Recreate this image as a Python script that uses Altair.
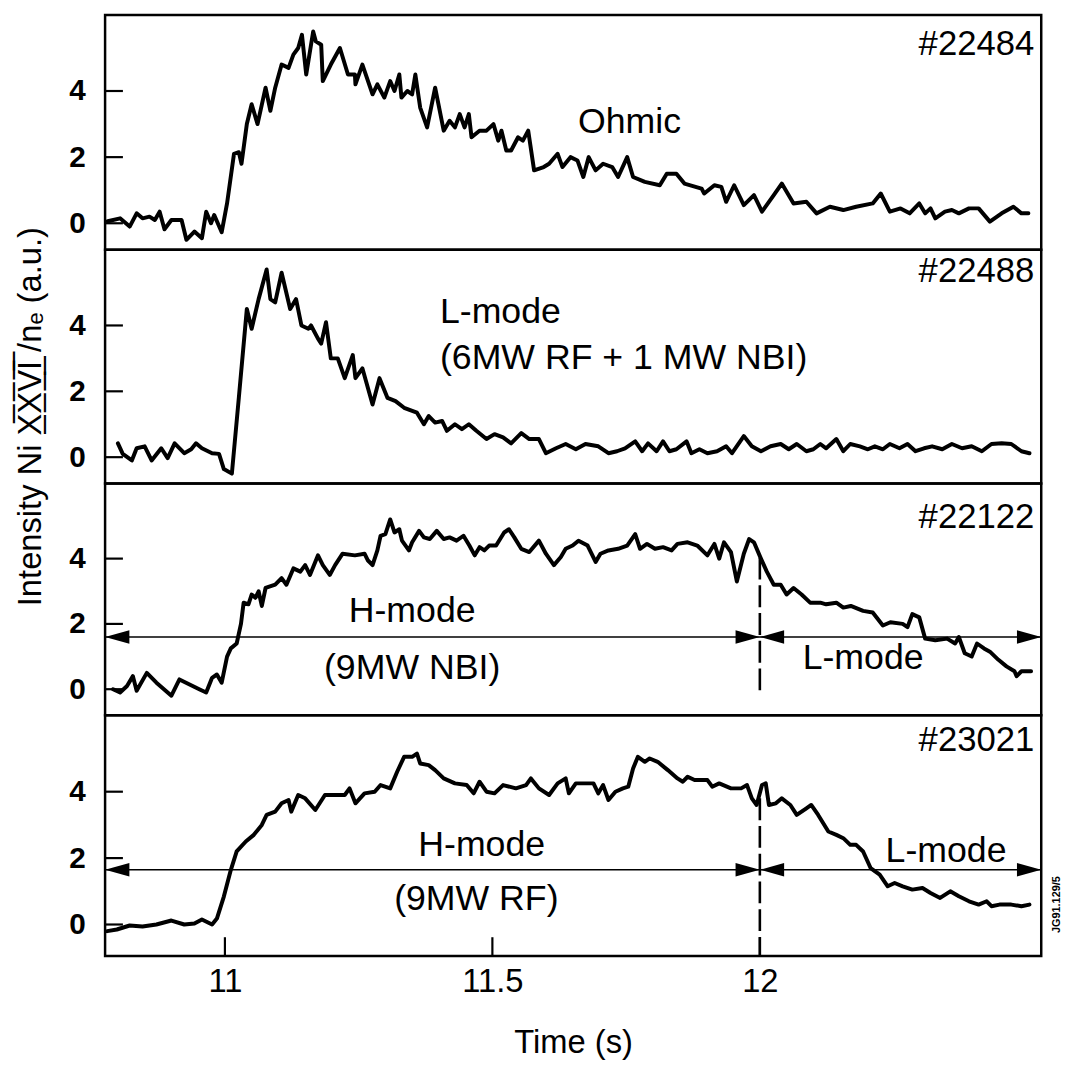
import altair as alt
import pandas as pd

FONT = "Liberation Sans"
X_MIN, X_MAX = 10.776, 12.526
X_TICKS = [11, 11.5, 12]
Y_TICKS = [0, 2, 4]

# ---------------- shot #22484 (Ohmic) ----------------
t_22484 = [10.781, 10.804, 10.822, 10.835, 10.846, 10.859, 10.869, 10.878, 10.887, 10.900,
           10.919, 10.928, 10.943, 10.957, 10.965, 10.974, 10.980, 10.994, 11.004, 11.017,
           11.026, 11.031, 11.041, 11.050, 11.061, 11.076, 11.085, 11.094, 11.106, 11.119,
           11.128, 11.137, 11.144, 11.152, 11.165, 11.170, 11.180, 11.183, 11.198, 11.215,
           11.230, 11.243, 11.244, 11.257, 11.276, 11.285, 11.298, 11.309, 11.317, 11.326,
           11.330, 11.341, 11.350, 11.356, 11.365, 11.378, 11.393, 11.409, 11.420, 11.430,
           11.439, 11.448, 11.456, 11.461, 11.476, 11.489, 11.502, 11.511, 11.517, 11.526,
           11.535, 11.548, 11.557, 11.567, 11.578, 11.596, 11.606, 11.622, 11.631, 11.646,
           11.659, 11.670, 11.680, 11.693, 11.707, 11.724, 11.735, 11.752, 11.763, 11.785,
           11.813, 11.826, 11.844, 11.859, 11.891, 11.896, 11.915, 11.928, 11.937, 11.952,
           11.970, 11.989, 12.004, 12.026, 12.041, 12.063, 12.087, 12.106, 12.131, 12.156,
           12.180, 12.211, 12.226, 12.243, 12.263, 12.280, 12.298, 12.309, 12.319, 12.328,
           12.346, 12.359, 12.372, 12.391, 12.409, 12.430, 12.452, 12.474, 12.489, 12.502]
v_22484 = [0.06, 0.15, -0.1, 0.3, 0.15, 0.2, 0.1, 0.35, -0.18, 0.1,
           0.1, -0.5, -0.25, -0.45, 0.35, 0.0, 0.25, -0.27, 0.6, 2.1,
           2.15, 1.8, 3.0, 3.6, 3.0, 4.1, 3.4, 4.1, 4.8, 4.7,
           5.1, 5.3, 5.7, 4.5, 5.8, 5.5, 5.4, 4.3, 4.8, 5.3,
           4.5, 4.5, 4.2, 4.8, 3.9, 4.2, 3.8, 4.3, 4.0, 4.5,
           3.8, 4.0, 3.9, 4.5, 3.5, 2.9, 4.1, 2.8, 3.1, 2.9,
           3.3, 2.9, 3.3, 2.6, 2.8, 2.8, 3.0, 2.5, 2.8, 2.2,
           2.2, 2.6, 2.5, 2.8, 1.6, 1.7, 1.8, 2.1, 1.7, 2.0,
           1.9, 1.4, 2.0, 1.6, 1.8, 1.7, 1.4, 2.0, 1.4, 1.25,
           1.15, 1.5, 1.5, 1.2, 1.05, 0.9, 1.15, 1.1, 0.65, 1.15,
           0.55, 0.85, 0.35, 0.85, 1.2, 0.6, 0.65, 0.3, 0.5, 0.4,
           0.5, 0.6, 0.9, 0.35, 0.45, 0.3, 0.6, 0.3, 0.45, 0.15,
           0.35, 0.4, 0.3, 0.45, 0.45, 0.05, 0.3, 0.5, 0.3, 0.3]

# ---------------- shot #22488 (L-mode) ----------------
t_22488 = [10.800, 10.809, 10.826, 10.835, 10.850, 10.863, 10.881, 10.893, 10.906, 10.924,
           10.937, 10.946, 10.957, 10.976, 10.989, 10.998, 11.013, 11.026, 11.041, 11.050,
           11.063, 11.078, 11.085, 11.094, 11.106, 11.122, 11.133, 11.143, 11.156, 11.161,
           11.174, 11.180, 11.189, 11.198, 11.211, 11.224, 11.239, 11.244, 11.257, 11.276,
           11.289, 11.304, 11.319, 11.335, 11.359, 11.372, 11.381, 11.393, 11.406, 11.415,
           11.430, 11.443, 11.456, 11.470, 11.489, 11.504, 11.520, 11.535, 11.554, 11.569,
           11.587, 11.600, 11.619, 11.637, 11.656, 11.674, 11.698, 11.717, 11.733, 11.748,
           11.767, 11.780, 11.791, 11.807, 11.819, 11.831, 11.844, 11.863, 11.872, 11.887,
           11.902, 11.920, 11.937, 11.948, 11.970, 11.985, 12.002, 12.020, 12.039, 12.054,
           12.069, 12.087, 12.100, 12.113, 12.124, 12.143, 12.156, 12.169, 12.187, 12.202,
           12.215, 12.230, 12.243, 12.261, 12.276, 12.291, 12.307, 12.322, 12.341, 12.359,
           12.378, 12.396, 12.415, 12.433, 12.452, 12.470, 12.489, 12.504]
v_22488 = [0.42, 0.1, -0.1, 0.27, 0.33, -0.1, 0.27, -0.03, 0.42, 0.12,
           0.24, 0.42, 0.27, 0.12, 0.1, -0.36, -0.5, 1.8, 4.5, 3.9,
           4.8, 5.7, 4.8, 4.7, 5.6, 4.5, 4.8, 4.0, 3.9, 4.0,
           3.6, 3.45, 4.1, 3.0, 3.0, 2.4, 3.1, 2.4, 2.7, 1.6,
           2.4, 1.8, 1.7, 1.5, 1.35, 1.0, 1.25, 1.05, 1.1, 0.8,
           1.0, 0.85, 1.0, 0.8, 0.55, 0.7, 0.6, 0.42, 0.73, 0.55,
           0.55, 0.12, 0.27, 0.4, 0.24, 0.4, 0.33, 0.12, 0.18, 0.27,
           0.48, 0.18, 0.42, 0.18, 0.48, 0.18, 0.24, 0.48, 0.12, 0.24,
           0.12, 0.18, 0.33, 0.12, 0.64, 0.33, 0.18, 0.33, 0.4, 0.24,
           0.4, 0.18, 0.24, 0.4, 0.27, 0.55, 0.18, 0.4, 0.33, 0.24,
           0.33, 0.24, 0.4, 0.27, 0.4, 0.18, 0.27, 0.33, 0.24, 0.4,
           0.27, 0.33, 0.18, 0.4, 0.42, 0.4, 0.18, 0.12]

# ---------------- shot #22122 (H-mode NBI) ----------------
t_22122 = [10.791, 10.804, 10.817, 10.828, 10.835, 10.854, 10.872, 10.900, 10.915, 10.933,
           10.952, 10.965, 10.976, 10.985, 10.994, 11.004, 11.011, 11.022, 11.030, 11.035,
           11.044, 11.050, 11.057, 11.063, 11.069, 11.076, 11.094, 11.106, 11.115, 11.128,
           11.141, 11.150, 11.159, 11.174, 11.183, 11.196, 11.206, 11.220, 11.243, 11.261,
           11.267, 11.276, 11.285, 11.291, 11.300, 11.309, 11.317, 11.326, 11.331, 11.344,
           11.350, 11.363, 11.372, 11.383, 11.396, 11.409, 11.420, 11.433, 11.446, 11.457,
           11.467, 11.476, 11.485, 11.494, 11.507, 11.522, 11.531, 11.541, 11.554, 11.569,
           11.587, 11.600, 11.615, 11.628, 11.637, 11.650, 11.661, 11.678, 11.693, 11.702,
           11.717, 11.735, 11.752, 11.767, 11.776, 11.789, 11.804, 11.819, 11.835, 11.846,
           11.865, 11.883, 11.902, 11.915, 11.924, 11.933, 11.946, 11.957, 11.970, 11.980,
           11.989, 12.002, 12.013, 12.026, 12.039, 12.050, 12.063, 12.078, 12.094, 12.113,
           12.124, 12.143, 12.156, 12.170, 12.193, 12.211, 12.230, 12.244, 12.267, 12.276,
           12.285, 12.298, 12.309, 12.328, 12.350, 12.365, 12.372, 12.383, 12.396, 12.406,
           12.419, 12.430, 12.446, 12.461, 12.476, 12.480, 12.489, 12.507]
v_22122 = [0.0, -0.1, 0.1, 0.4, -0.05, 0.5, 0.2, -0.2, 0.3, 0.15,
           0.0, -0.1, 0.35, 0.45, 0.2, 1.0, 1.25, 1.4, 2.0, 2.65,
           2.6, 2.9, 2.8, 3.0, 2.55, 3.1, 3.2, 3.4, 3.2, 3.7,
           3.6, 3.8, 3.5, 4.1, 3.8, 3.5, 3.8, 4.15, 4.1, 4.15,
           3.95, 3.8, 4.25, 4.7, 4.75, 5.2, 4.8, 4.9, 4.55, 4.25,
           4.5, 4.85, 4.65, 4.6, 4.85, 4.6, 4.65, 4.55, 4.7, 4.4,
           4.1, 4.35, 4.25, 4.4, 4.4, 4.8, 4.9, 4.65, 4.3, 4.2,
           4.55, 4.15, 3.8, 4.05, 4.3, 4.4, 4.55, 4.4, 3.9, 4.15,
           4.25, 4.3, 4.4, 4.75, 4.3, 4.45, 4.3, 4.35, 4.25, 4.45,
           4.5, 4.4, 4.1, 4.45, 4.0, 4.5, 4.2, 3.3, 4.15, 4.6,
           4.5, 4.0, 3.6, 3.2, 3.2, 2.9, 3.1, 2.9, 2.65, 2.65,
           2.6, 2.65, 2.5, 2.55, 2.4, 2.35, 1.95, 2.05, 2.0, 1.9,
           2.3, 2.2, 1.55, 1.5, 1.55, 1.4, 1.6, 1.1, 1.0, 1.4,
           1.25, 1.15, 0.9, 0.7, 0.55, 0.4, 0.55, 0.55]

# ---------------- shot #23021 (H-mode RF) ----------------
t_23021 = [10.780, 10.798, 10.822, 10.846, 10.872, 10.900, 10.924, 10.943, 10.957, 10.976,
           10.985, 10.998, 11.011, 11.022, 11.039, 11.054, 11.069, 11.078, 11.094, 11.106,
           11.119, 11.124, 11.137, 11.150, 11.169, 11.187, 11.206, 11.224, 11.233, 11.244,
           11.261, 11.280, 11.291, 11.309, 11.322, 11.335, 11.350, 11.359, 11.365, 11.381,
           11.393, 11.409, 11.430, 11.452, 11.465, 11.476, 11.489, 11.504, 11.520, 11.544,
           11.563, 11.572, 11.587, 11.606, 11.622, 11.637, 11.643, 11.656, 11.674, 11.689,
           11.698, 11.707, 11.717, 11.730, 11.744, 11.754, 11.763, 11.772, 11.785, 11.794,
           11.809, 11.828, 11.846, 11.856, 11.865, 11.878, 11.902, 11.911, 11.924, 11.946,
           11.965, 11.976, 11.985, 11.994, 12.004, 12.011, 12.017, 12.030, 12.041, 12.057,
           12.069, 12.087, 12.096, 12.109, 12.128, 12.143, 12.156, 12.169, 12.180, 12.193,
           12.207, 12.224, 12.239, 12.252, 12.267, 12.285, 12.304, 12.319, 12.337, 12.356,
           12.372, 12.391, 12.409, 12.424, 12.433, 12.448, 12.470, 12.489, 12.504]
v_23021 = [-0.2, -0.15, -0.03, -0.06, 0.0, 0.12, 0.0, 0.03, 0.15, 0.0,
           0.18, 0.84, 1.64, 2.2, 2.5, 2.7, 3.0, 3.3, 3.4, 3.65,
           3.75, 3.4, 3.9, 3.8, 3.45, 3.9, 3.9, 3.9, 4.1, 3.65,
           3.95, 4.0, 4.2, 4.1, 4.6, 5.05, 5.05, 5.15, 4.85, 4.8,
           4.65, 4.4, 4.25, 4.2, 3.95, 4.3, 4.0, 3.95, 4.2, 4.1,
           4.2, 4.4, 4.1, 3.9, 4.25, 4.4, 3.95, 4.25, 4.25, 4.25,
           3.95, 4.2, 3.75, 4.0, 4.1, 4.15, 4.7, 5.05, 4.9, 5.0,
           4.9, 4.65, 4.4, 4.3, 4.45, 4.35, 4.35, 4.15, 4.25, 4.1,
           4.1, 4.2, 3.8, 3.6, 4.2, 4.25, 3.6, 3.65, 3.8, 3.6,
           3.3, 3.5, 3.6, 3.3, 2.8, 2.7, 2.6, 2.4, 2.4, 2.2,
           1.7, 1.5, 1.15, 1.25, 1.15, 1.05, 1.1, 0.95, 0.8, 1.0,
           0.85, 0.7, 0.6, 0.7, 0.55, 0.6, 0.6, 0.55, 0.6]

# ---------------- annotations ----------------
shot_labels = ["#22484", "#22488", "#22122", "#23021"]
shot_label_t = 12.513
shot_label_v = [5.43, 5.64, 5.26, 5.55]

left_notes = [  # (panel, text, t, v)
    (0, "Ohmic", 11.66, 3.05),
    (1, "L-mode", 11.402, 4.4),
    (1, "(6MW RF + 1 MW NBI)", 11.402, 3.0),
]
center_notes = [
    (2, "H-mode", 11.35, 2.4),
    (2, "(9MW NBI)", 11.35, 0.65),
    (2, "L-mode", 12.193, 0.95),
    (3, "H-mode", 11.48, 2.4),
    (3, "(9MW RF)", 11.47, 0.75),
    (3, "L-mode", 12.348, 2.2),
]
transition_t = 12.0
arrow_v = {2: 1.6, 3: 1.65}
dash_span = {2: (4.03, -0.2), 3: (3.8, -0.95)}

y_domains = [[-0.8, 6.3], [-0.8, 6.3], [-0.8, 6.3], [-0.95, 6.3]]
heights = [237, 236, 234, 243]
WIDTH = 945

Y_TITLE = "Intensity Ni X\u0305\u0332X\u0305\u0332V\u0305\u0332I\u0305\u0332 /n\u2091 (a.u.)"

series = [(t_22484, v_22484), (t_22488, v_22488), (t_22122, v_22122), (t_23021, v_23021)]

ARROW_R = "M0,0L-2,-0.55L-2,0.55Z"
ARROW_L = "M0,0L2,-0.55L2,0.55Z"


def make_panel(i):
    h = heights[i]
    xs = alt.Scale(domain=[X_MIN, X_MAX], nice=False, zero=False)
    ys = alt.Scale(domain=y_domains[i], nice=False, zero=False)
    bottom = i == 3
    if bottom:
        xaxis = alt.Axis(values=X_TICKS, format="~g", ticks=False, domain=False, grid=False,
                         labelFont=FONT, labelFontSize=33, labelColor="black", labelPadding=10,
                         title="Time (s)", titleFont=FONT, titleFontSize=33,
                         titleFontWeight="normal", titleColor="black", titlePadding=28)
    else:
        xaxis = None
    yargs = dict(values=Y_TICKS, ticks=False, domain=False, grid=False, labelFont=FONT,
                 labelFontWeight="bold", labelFontSize=30, labelColor="black",
                 labelPadding=20)
    if i == 1:
        yaxis = alt.Axis(title=Y_TITLE, titleFont=FONT, titleFontSize=33,
                         titleFontWeight="normal", titleColor="black", titleAngle=270,
                         titleX=-65, titleY=168, titleAlign="center",
                         titleBaseline="alphabetic", **yargs)
    else:
        yaxis = alt.Axis(title=None, **yargs)

    X = lambda f="t": alt.X(f"{f}:Q", scale=xs, axis=xaxis)
    Y = lambda f="v": alt.Y(f"{f}:Q", scale=ys, axis=yaxis)

    t, v = series[i]
    df = pd.DataFrame({"t": t, "v": v})
    line = alt.Chart(df).mark_line(color="black", strokeWidth=4, strokeJoin="round",
                                   strokeCap="round").encode(x=X(), y=Y())
    layers = [line]

    # inward y ticks
    yt = pd.DataFrame({"v": Y_TICKS})
    layers.append(alt.Chart(yt).mark_rule(color="black", strokeWidth=2.2).encode(
        y=Y(), x=alt.value(0), x2=alt.value(18)))
    if bottom:
        xt = pd.DataFrame({"t": X_TICKS})
        layers.append(alt.Chart(xt).mark_rule(color="black", strokeWidth=2.2).encode(
            x=X(), y=alt.value(h), y2=alt.value(h - 19)))

    # shot label
    sl = pd.DataFrame({"t": [shot_label_t], "v": [shot_label_v[i]], "label": [shot_labels[i]]})
    layers.append(alt.Chart(sl).mark_text(align="right", baseline="middle", font=FONT,
                                          fontSize=35, color="black").encode(
        x=X(), y=Y(), text="label:N"))

    ln = [n for n in left_notes if n[0] == i]
    if ln:
        d = pd.DataFrame({"label": [n[1] for n in ln], "t": [n[2] for n in ln],
                          "v": [n[3] for n in ln]})
        layers.append(alt.Chart(d).mark_text(align="left", baseline="middle", font=FONT,
                                             fontSize=36, color="black").encode(
            x=X(), y=Y(), text="label:N"))
    cn = [n for n in center_notes if n[0] == i]
    if cn:
        d = pd.DataFrame({"label": [n[1] for n in cn], "t": [n[2] for n in cn],
                          "v": [n[3] for n in cn]})
        layers.append(alt.Chart(d).mark_text(align="center", baseline="middle", font=FONT,
                                             fontSize=36, color="black").encode(
            x=X(), y=Y(), text="label:N"))

    if i in arrow_v:
        av = arrow_v[i]
        ar = pd.DataFrame({"t": [X_MIN], "t2": [X_MAX], "v": [av]})
        layers.append(alt.Chart(ar).mark_rule(color="black", strokeWidth=1.6).encode(
            x=X(), x2="t2:Q", y=Y()))
        right_heads = pd.DataFrame({"t": [transition_t, X_MAX], "v": [av, av]})
        left_heads = pd.DataFrame({"t": [X_MIN, transition_t], "v": [av, av]})
        layers.append(alt.Chart(right_heads).mark_point(shape=ARROW_R, filled=True, size=600,
                                                        color="black", opacity=1,
                                                        strokeWidth=0).encode(x=X(), y=Y()))
        layers.append(alt.Chart(left_heads).mark_point(shape=ARROW_L, filled=True, size=600,
                                                       color="black", opacity=1,
                                                       strokeWidth=0).encode(x=X(), y=Y()))
        top, bot = dash_span[i]
        dd = pd.DataFrame({"t": [transition_t], "v": [top], "v2": [bot]})
        layers.append(alt.Chart(dd).mark_rule(color="black", strokeWidth=2.6,
                                              strokeDash=[22, 6]).encode(
            x=X(), y=Y(), y2="v2:Q"))

    if bottom:
        jg = pd.DataFrame({"t": [12.556], "v": [0.6], "label": ["JG91.129/5"]})
        layers.append(alt.Chart(jg).mark_text(angle=270, align="center", baseline="middle",
                                              font=FONT, fontSize=11, fontWeight="bold",
                                              color="black").encode(
            x=X(), y=Y(), text="label:N"))

    return alt.layer(*layers).properties(width=WIDTH, height=h)


chart = alt.vconcat(*[make_panel(i) for i in range(4)], spacing=0, bounds="flush").properties(
    padding={"left": 5, "top": 0, "right": 2, "bottom": 2},
    background="white",
).configure_view(stroke="black", strokeWidth=2.5)

chart.save("out.html", embed_options={"renderer": "svg", "actions": False})
